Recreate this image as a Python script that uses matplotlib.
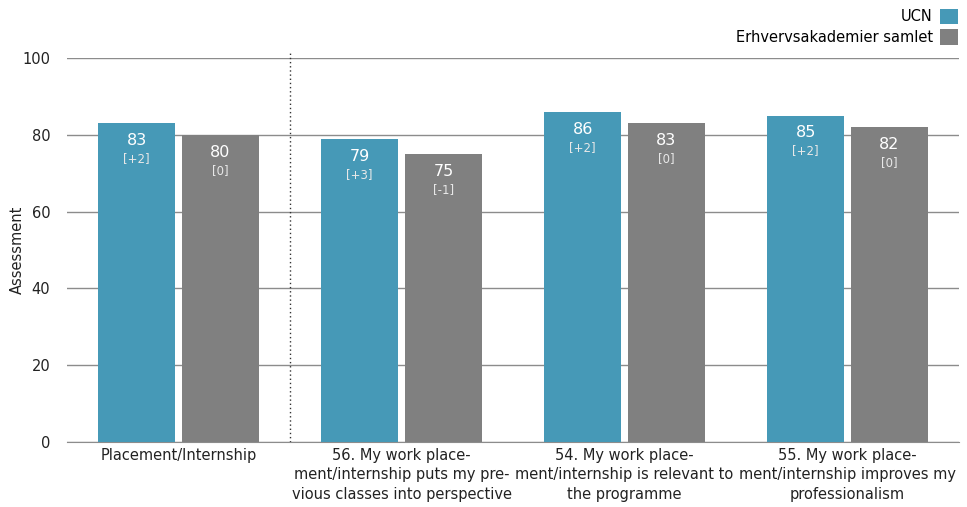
import matplotlib
matplotlib.use("Agg")
import matplotlib.pyplot as plt
import numpy as np

categories = [
    "Placement/Internship",
    "56. My work place-\nment/internship puts my pre-\nvious classes into perspective",
    "54. My work place-\nment/internship is relevant to\nthe programme",
    "55. My work place-\nment/internship improves my\nprofessionalism",
]
series_names = ["UCN", "Erhvervsakademier samlet"]
ucn_values = [83, 79, 86, 85]
ucn_changes = ["[+2]", "[+3]", "[+2]", "[+2]"]
eak_values = [80, 75, 83, 82]
eak_changes = ["[0]", "[-1]", "[0]", "[0]"]
yticks = [0, 20, 40, 60, 80, 100]

plt.rcParams['font.family'] = ['DejaVu Sans']
fig = plt.figure(figsize=(9.67, 5.07), dpi=100)
ax = fig.add_axes([67/967, 1-442/507, (959-67)/967, (442-58)/507])

x = np.arange(len(categories))
w = 0.345
off = 0.188
c1 = "#4699B7"
c2 = "#808080"
b1 = ax.bar(x - off, ucn_values, w, color=c1, label=series_names[0], zorder=3)
b2 = ax.bar(x + off, eak_values, w, color=c2, label=series_names[1], zorder=3)

for bars, vals, chg in [(b1, ucn_values, ucn_changes), (b2, eak_values, eak_changes)]:
    for b, v, c in zip(bars, vals, chg):
        cx = b.get_x() + b.get_width()/2
        ax.annotate(str(v), (cx, v), xytext=(0, -12.5), textcoords='offset points',
                    ha='center', va='center', color='white', fontsize=11.5, zorder=4)
        ax.annotate(c, (cx, v), xytext=(0, -25.5), textcoords='offset points',
                    ha='center', va='center', color='#e8e8e8', fontsize=8.5, zorder=4)

ax.set_xlim(-0.5, len(categories) - 0.5)
ax.set_ylim(0, 100)
ax.set_yticks(yticks)
ax.yaxis.grid(True, color='#8c8c8c', lw=1, zorder=0)
ax.set_axisbelow(True)
for s in ['top', 'right', 'left']:
    ax.spines[s].set_visible(False)
ax.spines['bottom'].set_color('#8c8c8c')
ax.tick_params(axis='y', length=0, pad=12, labelsize=10.5, colors='#222222')
ax.tick_params(axis='x', length=0, pad=4, labelsize=10.5, colors='#222222')
ax.set_xticks(x)
ax.set_xticklabels(categories, linespacing=1.4)
ax.set_ylabel("Assessment", fontsize=10.5, color='#222222')
ax.yaxis.set_label_coords(-42/892, 0.5)

ax.plot([0.5, 0.5], [0, 101.5], ls=(0, (1, 2)), color='#333333', lw=1, clip_on=False, zorder=2)

leg = fig.legend(handles=[b1, b2], labels=series_names, loc='upper right',
                 bbox_to_anchor=(967/967, 1.0), markerfirst=False, frameon=False,
                 handlelength=1.25, handleheight=1.25, handletextpad=0.5,
                 labelspacing=0.35, fontsize=10.5, borderaxespad=0.2)

fig.savefig("out.png", dpi=100)
